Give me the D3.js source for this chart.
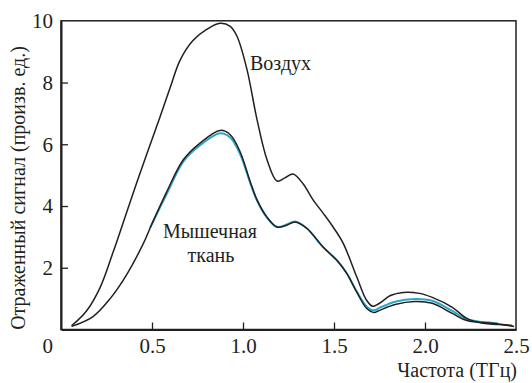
<!DOCTYPE html>
<html><head><meta charset="utf-8">
<script src="https://cdn.jsdelivr.net/npm/d3@7"></script>
<style>body{margin:0;background:#fff}svg{display:block}</style>
</head><body>
<svg id="c" width="532" height="383"></svg>
<script>
const airX = [0.058,0.14,0.214,0.286,0.361,0.416,0.471,0.544,0.599,0.654,0.725,0.80,0.874,0.93,0.967,1.022,1.077,1.132,1.187,1.23,1.275,1.33,1.385,1.44,1.495,1.55,1.626,1.68,1.714,1.75,1.81,1.88,1.97,2.04,2.15,2.23,2.32,2.41,2.49];
const airY = [0.12,0.6,1.35,2.5,3.8,4.75,5.68,6.88,7.82,8.72,9.36,9.72,9.92,9.82,9.5,8.42,6.8,5.5,4.81,4.91,5.04,4.72,4.2,3.77,3.32,2.8,1.69,0.94,0.75,0.85,1.1,1.2,1.17,1.04,0.72,0.36,0.2,0.16,0.1];
const muscleX = [0.058,0.176,0.27,0.361,0.452,0.498,0.58,0.672,0.764,0.874,0.93,0.984,1.04,1.077,1.132,1.187,1.24,1.286,1.35,1.44,1.516,1.57,1.626,1.68,1.72,1.75,1.835,1.945,2.04,2.15,2.23,2.37,2.48];
const muscleY = [0.1,0.42,1.0,1.78,2.78,3.4,4.45,5.5,6.04,6.45,6.31,5.76,4.78,4.2,3.64,3.32,3.38,3.48,3.28,2.67,2.24,1.82,1.2,0.68,0.55,0.62,0.81,0.91,0.85,0.52,0.29,0.2,0.13];
const cyanX = [0.49,0.58,0.672,0.764,0.874,0.93,0.984,1.04,1.077,1.132,1.187,1.24,1.286,1.35,1.44,1.516,1.57,1.626,1.68,1.72,1.75,1.835,1.945,2.04,2.15,2.23,2.32,2.4];
const cyanY = [3.3,4.38,5.44,5.97,6.36,6.22,5.68,4.74,4.18,3.62,3.32,3.4,3.5,3.28,2.67,2.24,1.82,1.22,0.74,0.62,0.7,0.9,0.99,0.93,0.6,0.33,0.24,0.2];
const xTicks = [0.5,1.0,1.5,2.0,2.5];
const yTicks = [2,4,6,8,10];
const labels = {air:"Воздух", muscle1:"Мышечная", muscle2:"ткань", xTitle:"Частота (ТГц)", yTitle:"Отраженный сигнал (произв. ед.)"};

const svg = d3.select("#c");
const x = d3.scaleLinear().domain([0,2.5]).range([61,516]);
const y = d3.scaleLinear().domain([0,10]).range([329.5,20.8]);
const ink = "#231f20";
const FONT = "'Liberation Serif','Times New Roman',Tinos,'DejaVu Serif','Noto Serif',serif";

svg.append("rect").attr("x",x(0)).attr("y",y(10)).attr("width",x(2.5)-x(0)).attr("height",y(0)-y(10))
  .attr("fill","none").attr("stroke",ink).attr("stroke-width",1.5);

const ax = svg.append("g").attr("transform",`translate(0,${y(0)})`)
  .call(d3.axisBottom(x).tickValues(xTicks).tickSizeInner(-7).tickSizeOuter(0).tickPadding(9).tickFormat(d3.format(".1f")));
const ay = svg.append("g").attr("transform",`translate(${x(0)},0)`)
  .call(d3.axisLeft(y).tickValues(yTicks).tickSizeInner(-7).tickSizeOuter(0).tickPadding(8).tickFormat(d3.format("d")));
[ax,ay].forEach(g=>{
  g.attr("font-family",FONT).attr("font-size",21);
  g.select(".domain").attr("stroke",ink).attr("stroke-width",2);
  g.selectAll(".tick line").attr("stroke",ink).attr("stroke-width",1.3);
  g.selectAll(".tick text").attr("fill",ink);
});
ax.selectAll(".tick").filter(d=>d===2.5).select("line").remove();
ay.selectAll(".tick").filter(d=>d===10).select("line").remove();

function txt(s,xx,yy,anchor,size){
  return svg.append("text").attr("x",xx).attr("y",yy).attr("text-anchor",anchor||"start")
    .attr("fill",ink).attr("font-family",FONT).attr("font-size",size||20).text(s);
}
txt("0",x(0)-8,y(0)+23,"end",21);

const line = d3.line().x(d=>x(d[0])).y(d=>y(d[1])).curve(d3.curveCatmullRom.alpha(0.5));
svg.append("path").datum(d3.zip(cyanX,cyanY)).attr("d",line).attr("fill","none").attr("stroke","#2ba6cb").attr("stroke-width",2);
svg.append("path").datum(d3.zip(muscleX,muscleY)).attr("d",line).attr("fill","none").attr("stroke",ink).attr("stroke-width",1.5);
svg.append("path").datum(d3.zip(airX,airY)).attr("d",line).attr("fill","none").attr("stroke",ink).attr("stroke-width",1.5);

txt(labels.air,250,70,"start",20);
txt(labels.muscle1,210,238,"middle",20);
txt(labels.muscle2,211,262,"middle",20);
txt(labels.xTitle,517,377,"end",20);
svg.append("text").attr("transform","translate(25,188) rotate(-90)").attr("text-anchor","middle")
  .attr("fill",ink).attr("font-family",FONT).attr("font-size",20).text(labels.yTitle);
</script>
</body></html>
